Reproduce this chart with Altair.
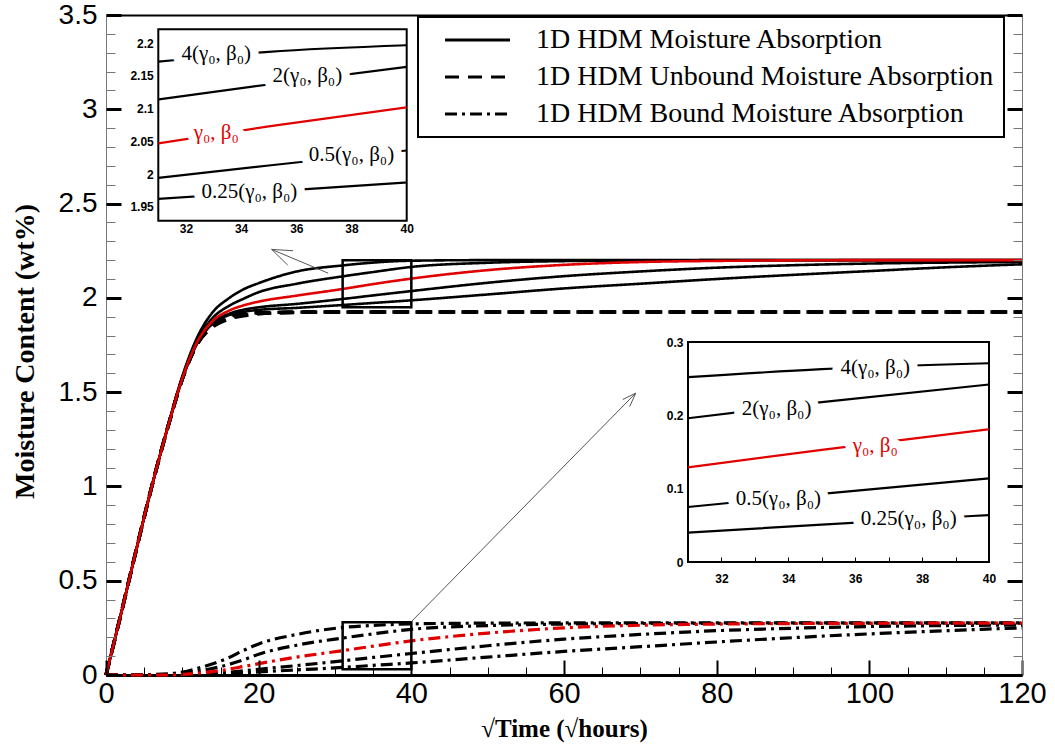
import altair as alt
import pandas as pd

# ---------------- data ----------------
X = [0, 2, 4, 6, 8, 10, 12, 14, 16, 18, 20, 25, 31, 35, 40, 50, 60, 70, 80, 90, 100, 110, 120]

FACTORS = ["4", "2", "1", "0.5", "0.25"]

total_4 = [0, 0.33, 0.67, 1.0, 1.305, 1.585, 1.795, 1.925, 1.995, 2.045, 2.078, 2.14, 2.172, 2.187, 2.197, 2.2, 2.2, 2.2, 2.2, 2.2, 2.2, 2.2, 2.2]
total_2 = [0, 0.33, 0.67, 1.0, 1.3, 1.578, 1.78, 1.895, 1.955, 1.995, 2.03, 2.075, 2.114, 2.137, 2.164, 2.186, 2.195, 2.198, 2.2, 2.2, 2.2, 2.2, 2.2]
total_1 = [0, 0.33, 0.67, 1.0, 1.3, 1.573, 1.77, 1.878, 1.93, 1.96, 1.98, 2.012, 2.047, 2.073, 2.102, 2.147, 2.175, 2.19, 2.196, 2.199, 2.2, 2.2, 2.2]
total_05 = [0, 0.33, 0.67, 1.0, 1.3, 1.57, 1.764, 1.868, 1.914, 1.937, 1.95, 1.968, 1.994, 2.013, 2.036, 2.08, 2.115, 2.14, 2.16, 2.173, 2.182, 2.187, 2.19]
total_025 = [0, 0.33, 0.67, 1.0, 1.3, 1.57, 1.762, 1.864, 1.907, 1.926, 1.936, 1.947, 1.962, 1.973, 1.987, 2.018, 2.05, 2.075, 2.1, 2.122, 2.142, 2.162, 2.178]

unbound_4 = [0, 0.33, 0.67, 1.0, 1.3, 1.57, 1.765, 1.87, 1.905, 1.917, 1.921, 1.924, 1.925, 1.925, 1.925, 1.925, 1.925, 1.925, 1.925, 1.925, 1.925, 1.925, 1.925]
unbound_2 = [0, 0.33, 0.67, 1.0, 1.3, 1.57, 1.762, 1.862, 1.9, 1.914, 1.92, 1.924, 1.925, 1.925, 1.925, 1.925, 1.925, 1.925, 1.925, 1.925, 1.925, 1.925, 1.925]
unbound_1 = [0, 0.33, 0.67, 1.0, 1.3, 1.57, 1.76, 1.856, 1.895, 1.912, 1.919, 1.924, 1.925, 1.925, 1.925, 1.925, 1.925, 1.925, 1.925, 1.925, 1.925, 1.925, 1.925]
unbound_05 = [0, 0.33, 0.67, 1.0, 1.3, 1.57, 1.758, 1.85, 1.89, 1.908, 1.917, 1.923, 1.925, 1.925, 1.925, 1.925, 1.925, 1.925, 1.925, 1.925, 1.925, 1.925, 1.925]
unbound_025 = [0, 0.33, 0.67, 1.0, 1.3, 1.57, 1.756, 1.846, 1.886, 1.905, 1.915, 1.923, 1.925, 1.925, 1.925, 1.925, 1.925, 1.925, 1.925, 1.925, 1.925, 1.925, 1.925]

bound_4 = [0, 0, 0, 0.002, 0.006, 0.015, 0.035, 0.06, 0.09, 0.13, 0.165, 0.215, 0.252, 0.263, 0.271, 0.275, 0.276, 0.276, 0.276, 0.276, 0.276, 0.276, 0.276]
bound_2 = [0, 0, 0, 0, 0.002, 0.008, 0.02, 0.035, 0.055, 0.08, 0.11, 0.158, 0.196, 0.218, 0.242, 0.262, 0.27, 0.273, 0.274, 0.275, 0.275, 0.275, 0.275]
bound_1 = [0, 0, 0, 0, 0, 0.003, 0.01, 0.018, 0.03, 0.045, 0.06, 0.095, 0.129, 0.153, 0.181, 0.222, 0.25, 0.264, 0.27, 0.273, 0.274, 0.275, 0.275]
bound_05 = [0, 0, 0, 0, 0, 0, 0.004, 0.008, 0.014, 0.022, 0.03, 0.05, 0.075, 0.093, 0.114, 0.155, 0.19, 0.215, 0.235, 0.248, 0.257, 0.262, 0.265]
bound_025 = [0, 0, 0, 0, 0, 0, 0.002, 0.004, 0.007, 0.011, 0.016, 0.027, 0.04, 0.051, 0.064, 0.095, 0.125, 0.15, 0.175, 0.198, 0.218, 0.235, 0.25]

TYPES = ["1D HDM Moisture Absorption", "1D HDM Unbound Moisture Absorption", "1D HDM Bound Moisture Absorption"]
DASHES = [[1, 0], [14, 9], [12, 5, 3, 5]]

XMAJ = [0, 20, 40, 60, 80, 100, 120]
XMIN = [5, 10, 15, 25, 30, 35, 45, 50, 55, 65, 70, 75, 85, 90, 95, 105, 110, 115]
YMAJ = [0, 0.5, 1, 1.5, 2, 2.5, 3, 3.5]
YMIN = [0.1, 0.2, 0.3, 0.4, 0.6, 0.7, 0.8, 0.9, 1.1, 1.2, 1.3, 1.4, 1.6, 1.7, 1.8, 1.9,
        2.1, 2.2, 2.3, 2.4, 2.6, 2.7, 2.8, 2.9, 3.1, 3.2, 3.3, 3.4]

# zoom boxes on the main plot  (x, x2, y, y2)
BOX_X = [31, 31]
BOX_X2 = [40, 40]
BOX_Y = [1.95, 0.03]
BOX_Y2 = [2.2, 0.28]

# pointer arrows (segments, main-plot data units)
ARR_X = [29.1, 21.7, 21.7, 40.0, 69.4, 69.4]
ARR_Y = [2.131, 2.257, 2.257, 0.283, 1.495, 1.495]
ARR_X2 = [21.7, 24.5, 23.8, 69.4, 68.6, 67.7]
ARR_Y2 = [2.257, 2.250, 2.174, 1.495, 1.423, 1.461]

# inset 1 (total moisture) and inset 2 (bound moisture)
IN_X = [31, 40]
IN1_Y = [1.9286, 2.2214]
IN2_Y = [0.0, 0.3]
IN1_XT = [32, 34, 36, 38, 40]
IN1_YT = [1.95, 2.0, 2.05, 2.1, 2.15, 2.2]
IN2_YT = [0, 0.1, 0.2, 0.3]
IN2_XMIN = [32, 33, 34, 35, 36, 37, 38, 39]

LABELS = ["4(γ₀, β₀)", "2(γ₀, β₀)", "γ₀, β₀", "0.5(γ₀, β₀)", "0.25(γ₀, β₀)"]
IN1_LX = [33.1, 36.4, 33.1, 38.0, 34.3]
IN1_LY = [2.183, 2.150, 2.062, 2.029, 1.973]
IN2_LX = [36.6, 33.65, 36.6, 33.7, 37.6]
IN2_LY = [0.265, 0.208, 0.158, 0.086, 0.058]

RED = "#e00000"
COLS = ["black", "black", RED, "black", "black"]

# ---------------- build tables ----------------
totals = [total_4, total_2, total_1, total_05, total_025]
unbounds = [unbound_4, unbound_2, unbound_1, unbound_05, unbound_025]
bounds = [bound_4, bound_2, bound_1, bound_05, bound_025]

rows = []
order = [0, 1, 3, 4, 2]  # red drawn last
for t, group, w, red_ok in [(TYPES[1], unbounds, 3.4, False), (TYPES[2], bounds, 3.2, True),
                            (TYPES[0], totals, 2.6, True)]:
    for i in order:
        c = COLS[i] if red_ok else "black"
        for x, y in zip(X, group[i]):
            rows.append(dict(x=x, y=y, s=t + FACTORS[i], type=t, col=c, w=w))
df = pd.DataFrame(rows)

in1 = pd.DataFrame([dict(x=x, y=y, s=FACTORS[i], col=COLS[i])
                    for i in order for x, y in zip(X, totals[i]) if 31 <= x <= 40])
in2 = pd.DataFrame([dict(x=x, y=y, s=FACTORS[i], col=COLS[i])
                    for i in order for x, y in zip(X, bounds[i]) if 31 <= x <= 40])
lab1 = pd.DataFrame(dict(x=IN1_LX, y=IN1_LY, t=LABELS, col=COLS))
lab2 = pd.DataFrame(dict(x=IN2_LX, y=IN2_LY, t=LABELS, col=COLS))
frame1 = pd.DataFrame(dict(x=[IN_X[0]], x2=[IN_X[1]], y=[IN1_Y[0]], y2=[IN1_Y[1]]))
frame2 = pd.DataFrame(dict(x=[IN_X[0]], x2=[IN_X[1]], y=[IN2_Y[0]], y2=[IN2_Y[1]]))
boxes = pd.DataFrame(dict(x=BOX_X, x2=BOX_X2, y=BOX_Y, y2=BOX_Y2))
arrows = pd.DataFrame(dict(x=ARR_X, y=ARR_Y, x2=ARR_X2, y2=ARR_Y2))
dummy = pd.DataFrame(dict(x=[0], y=[0]))
dummy2 = pd.DataFrame(dict(x=[35], y=[0.1]))

W, H = 916, 660

sx = alt.Scale(domain=[0, 120], nice=False, zero=False)
sy = alt.Scale(domain=[0, 3.5], nice=False, zero=False)

I1L, I1R, I1B, I1T = 52.3, 300.7, 205.7, 14.3
I2L, I2R, I2B, I2T = 582, 883, 547, 327
s1x = alt.Scale(domain=IN_X, range=[I1L, I1R], nice=False, zero=False)
s1y = alt.Scale(domain=IN1_Y, range=[I1B, I1T], nice=False, zero=False)
s2x = alt.Scale(domain=IN_X, range=[I2L, I2R], nice=False, zero=False)
s2y = alt.Scale(domain=IN2_Y, range=[I2B, I2T], nice=False, zero=False)

NUM_FONT = "Liberation Sans"
SERIF = "Liberation Serif"

# ---------------- main curves ----------------
legend = alt.Legend(title=None, orient="none", legendX=312, legendY=2,
                    symbolType="M0.8,0H13.8", symbolSize=100, symbolStrokeWidth=3,
                    symbolStrokeColor="black", labelFont=SERIF, labelFontSize=28,
                    labelColor="black", labelOffset=81, labelLimit=900, rowPadding=9,
                    padding=9, strokeColor="black", fillColor="white")

x_lab = alt.Axis(orient="bottom", values=XMAJ, ticks=False, domain=True, domainColor="black",
                 domainWidth=3, labelFont=NUM_FONT, labelFontSize=29, labelColor="black",
                 labelPadding=4, labelFlush=False, labelOverlap=False, grid=False,
                 title="√Time (√hours)", titleFont=SERIF, titleFontWeight="bold",
                 titleFontSize=25, titleColor="black", titleX=458, titleY=53,
                 titleAlign="center", titleBaseline="middle")
y_lab = alt.Axis(orient="left", values=YMAJ, ticks=False, domain=True, domainColor="#777",
                 domainWidth=1, labelFont=NUM_FONT, labelFontSize=28, labelColor="black",
                 labelPadding=9, labelFlush=False, labelOverlap=False, format="~g", grid=False,
                 title="Moisture Content (wt%)", titleFont=SERIF, titleFontWeight="bold",
                 titleFontSize=28, titleColor="black", titleAngle=270, titleX=-81, titleY=336,
                 titleAlign="center", titleBaseline="middle")

curves = alt.Chart(df).mark_line(interpolate="monotone").encode(
    x=alt.X("x:Q", scale=sx, axis=x_lab),
    y=alt.Y("y:Q", scale=sy, axis=y_lab),
    color=alt.Color("col:N", scale=None),
    strokeWidth=alt.StrokeWidth("w:Q", scale=None),
    strokeDash=alt.StrokeDash("type:N", scale=alt.Scale(domain=TYPES, range=DASHES), legend=legend),
    detail="s:N",
)

box_layer = alt.Chart(boxes).mark_rect(fillOpacity=0, stroke="black", strokeWidth=2.5).encode(
    x=alt.X("x:Q", scale=sx, axis=None), x2="x2",
    y=alt.Y("y:Q", scale=sy, axis=None), y2="y2")

arrow_layer = alt.Chart(arrows).mark_rule(color="#555", strokeWidth=1).encode(
    x=alt.X("x:Q", scale=sx, axis=None), x2="x2",
    y=alt.Y("y:Q", scale=sy, axis=None), y2="y2")


def xaxis_layer(axis, scale=sx, data=dummy):
    return alt.Chart(data).mark_point(opacity=0).encode(x=alt.X("x:Q", scale=scale, axis=axis))


def yaxis_layer(axis):
    return alt.Chart(dummy).mark_point(opacity=0).encode(y=alt.Y("y:Q", scale=sy, axis=axis))


def tick_axis(orient, values, size, width, color, domain=False, dcolor="black", dwidth=1, offset=None):
    if offset is None:
        offset = -(W if orient in ("left", "right") else H)
    return alt.Axis(orient=orient, offset=offset,
                    values=values, labels=False, ticks=True, tickSize=size, tickWidth=width,
                    tickColor=color, domain=domain, domainColor=dcolor, domainWidth=dwidth,
                    grid=False, title=None, zindex=1)


axis_layers = [
    yaxis_layer(tick_axis("right", YMIN, 9, 1, "#777")),
    yaxis_layer(tick_axis("right", YMAJ, 15, 3, "black")),
    yaxis_layer(tick_axis("left", YMIN, 9, 1, "#777", domain=True, dcolor="#777")),
    yaxis_layer(tick_axis("left", YMAJ, 15, 3, "black")),
    xaxis_layer(tick_axis("top", XMIN, 8, 1, "black")),
    xaxis_layer(tick_axis("top", XMAJ, 15, 2, "black")),
    xaxis_layer(alt.Axis(orient="top", ticks=False, labels=False, domain=True, domainColor="black",
                         domainWidth=2, grid=False, title=None)),
]

# ---------------- insets ----------------
def inset_axes(xvals, yvals, left, bottom, lpad_x):
    ax = alt.Axis(orient="bottom", offset=-(H - bottom), values=xvals, ticks=False, domain=False,
                  labelFont=NUM_FONT, labelFontSize=12, labelFontWeight="bold", labelColor="black",
                  labelPadding=lpad_x, labelFlush=False, labelOverlap=False, grid=False, title=None,
                  zindex=1)
    ay = alt.Axis(orient="left", offset=-left, values=yvals, ticks=False, domain=False,
                  labelFont=NUM_FONT, labelFontSize=12, labelFontWeight="bold", labelColor="black",
                  labelPadding=5, labelFlush=False, labelOverlap=False, format="~g", grid=False,
                  title=None, zindex=1)
    return ax, ay


def inset(frame, lines, labels, xs, ys, xvals, yvals, left, bottom, lpad_x, fsize):
    ax, ay = inset_axes(xvals, yvals, left, bottom, lpad_x)
    fr = alt.Chart(frame).mark_rect(fill="white", stroke="black", strokeWidth=2).encode(
        x=alt.X("x:Q", scale=xs, axis=ax), x2="x2",
        y=alt.Y("y:Q", scale=ys, axis=ay), y2="y2")
    ln = alt.Chart(lines).mark_line(interpolate="monotone", strokeWidth=2.2).encode(
        x=alt.X("x:Q", scale=xs, axis=None),
        y=alt.Y("y:Q", scale=ys, axis=None),
        color=alt.Color("col:N", scale=None),
        detail="s:N")
    halo = alt.Chart(labels).mark_text(font=SERIF, fontSize=fsize, stroke="white", strokeWidth=17,
                                       strokeJoin="round", fill="white", baseline="middle",
                                       align="center").encode(
        x=alt.X("x:Q", scale=xs, axis=None), y=alt.Y("y:Q", scale=ys, axis=None), text="t:N")
    txt = alt.Chart(labels).mark_text(font=SERIF, fontSize=fsize, baseline="middle",
                                      align="center").encode(
        x=alt.X("x:Q", scale=xs, axis=None), y=alt.Y("y:Q", scale=ys, axis=None), text="t:N",
        color=alt.Color("col:N", scale=None))
    return [fr, ln, halo, txt]


inset1 = inset(frame1, in1, lab1, s1x, s1y, IN1_XT, IN1_YT, I1L, I1B, 3, 21)
inset2 = inset(frame2, in2, lab2, s2x, s2y, IN1_XT, IN2_YT, I2L, I2B, 11, 21)
inset2_ticks = xaxis_layer(tick_axis("top", IN2_XMIN, 5, 1, "black", offset=-I2B), scale=s2x, data=dummy2)

chart = alt.layer(
    *axis_layers, curves, box_layer, arrow_layer, *inset1, *inset2, inset2_ticks
).resolve_scale(
    x="independent", y="independent"
).resolve_axis(
    x="independent", y="independent"
).properties(
    width=W, height=H,
    autosize=alt.AutoSizeParams(type="none"),
    padding={"left": 106, "top": 15, "right": 33, "bottom": 71},
    background="white",
).configure_view(stroke=None).configure_legend(strokeWidth=2)

chart.save("out.html", embed_options={"renderer": "svg", "actions": False})
